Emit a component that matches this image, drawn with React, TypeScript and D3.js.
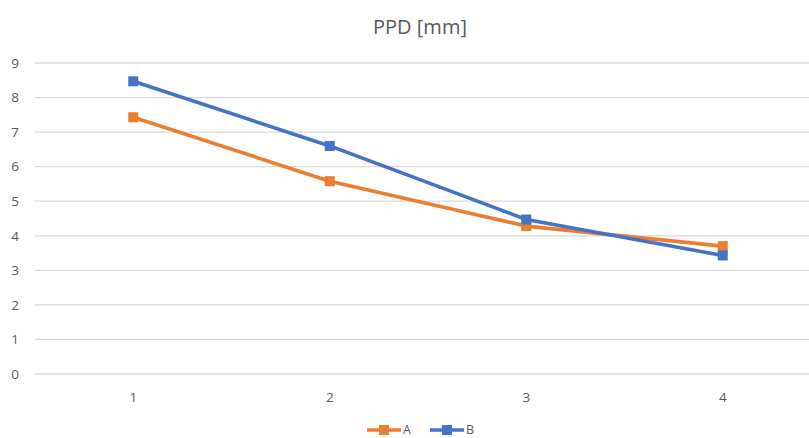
import React from "react";
import * as d3 from "d3";

const categories = ["1", "2", "3", "4"];
const seriesA = [7.43, 5.58, 4.28, 3.7];
const seriesB = [8.47, 6.6, 4.47, 3.43];
const yTicks = [0, 1, 2, 3, 4, 5, 6, 7, 8, 9];
const seriesNames = ["A", "B"];
const colors = ["#ED7D31", "#4472C4"];

export default function App() {
  const W = 809, H = 438;
  const left = 35, right = 821, top = 63, bottom = 374;
  const x = d3.scaleBand().domain(categories).range([left, right]);
  const y = d3.scaleLinear().domain([0, 9]).range([bottom, top]);
  const cx = (c: string) => (x(c) as number) + x.bandwidth() / 2;
  const line = d3.line<number>().x((_, i) => cx(categories[i])).y((d) => y(d));
  const all = [seriesA, seriesB];
  const font = "'Open Sans', 'Noto Sans', sans-serif";
  const ms = 10;
  return (
    <svg width={W} height={H} style={{ position: "absolute", left: 0, top: 0, background: "#fff" }} fontFamily={font}>
      <text x={420} y={34} textAnchor="middle" fontSize={20} fill="#595959">PPD [mm]</text>
      {yTicks.map((t) => (
        <g key={t}>
          <line x1={left} x2={W} y1={y(t)} y2={y(t)} stroke="#d9d9d9" strokeWidth={1.3} />
          <text x={19} y={y(t)} dy="0.35em" textAnchor="end" fontSize={13.5} fill="#595959">{t}</text>
        </g>
      ))}
      {categories.map((c) => (
        <text key={c} x={cx(c)} y={397} dy="0.35em" textAnchor="middle" fontSize={13.5} fill="#595959">{c}</text>
      ))}
      {all.map((s, si) => (
        <g key={si}>
          <path d={line(s) as string} fill="none" stroke={colors[si]} strokeWidth={3.6} strokeLinejoin="round" />
          {s.map((v, i) => (
            <rect key={i} x={cx(categories[i]) - ms / 2} y={y(v) - ms / 2} width={ms} height={ms} fill={colors[si]} />
          ))}
        </g>
      ))}
      {seriesNames.map((n, i) => {
        const lx = 367 + i * 63;
        return (
          <g key={n}>
            <line x1={lx} x2={lx + 34} y1={430} y2={430} stroke={colors[i]} strokeWidth={3.6} />
            <rect x={lx + 17 - 5} y={425} width={10} height={10} fill={colors[i]} />
            <text x={lx + 36} y={430} dy="0.35em" fontSize={12.5} fill="#595959">{n}</text>
          </g>
        );
      })}
    </svg>
  );
}
